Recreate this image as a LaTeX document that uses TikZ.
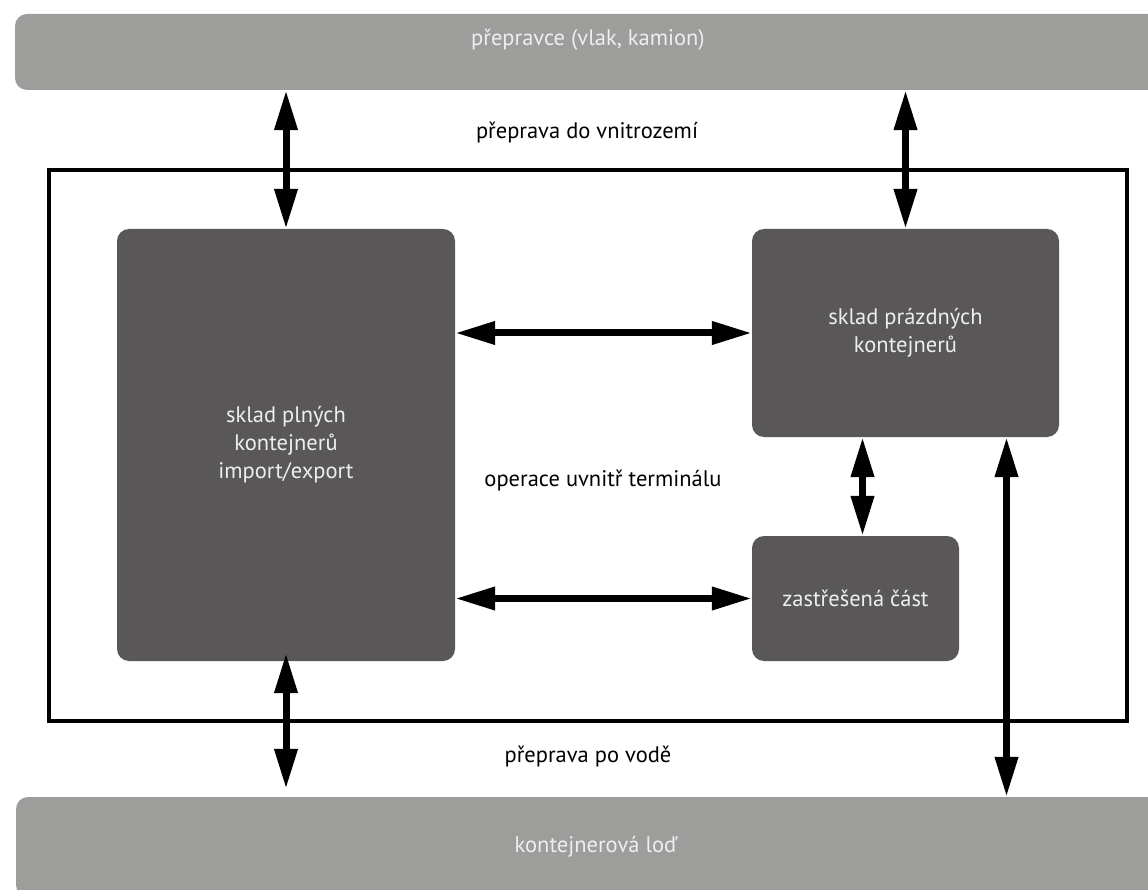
\documentclass[tikz,border=0pt]{standalone}
\usepackage{fontspec}
\setmainfont{PT Sans}
\usepackage{tikz}
\usetikzlibrary{arrows.meta,positioning}
\definecolor{bargray}{HTML}{9D9D9C}
\definecolor{boxgray}{HTML}{595758}
\definecolor{lighttext}{HTML}{EEEEEE}
\tikzset{
  bar/.style={ fill=bargray, rounded corners=12pt, inner sep=0pt, text=lighttext }
}
\tikzset{
  store/.style={ fill=boxgray, rounded corners=12pt, text=lighttext, align=center }
}
\tikzset{
  terminalframe/.style={ draw, line width=3.5pt, inner sep=0pt }
}
\tikzset{
  flow/.style={ line width=7pt, {Triangle[length=40pt,width=22pt]}-{Triangle[length=40pt,width=22pt]} }
}
\tikzset{
  caption/.style={ text=black }
}

\begin{document}
\begin{tikzpicture}[x=1pt, y=-1pt, font=\fontsize{22.5}{28}\selectfont]
      \useasboundingbox (0,0) rectangle (1148,890);
      \node[bar, minimum width=1160pt, minimum height=76pt] (carrier) at (595, 52) {};
      \node[bar, minimum width=1160pt, minimum height=100pt] (ship) at (596, 847) {kontejnerová loď};
      \node[text=lighttext] (carriertxt) at (588, 40) {přepravce (vlak, kamion)};
      \node[terminalframe, minimum width=1078pt, minimum height=551pt] (terminal) at (588, 445.5) {};
      \node[store, minimum width=338pt, minimum height=432pt] (full) at (286, 445) {sklad plných\\kontejnerů\\import/export};
      \node[store, minimum width=307pt, minimum height=208pt] (empty) at (905.5, 333) {sklad prázdných\\kontejnerů};
      \node[store, minimum width=207pt, minimum height=125pt] (covered) at (855.5, 598.5) {zastřešená část};
      \node[caption] (inland) at (587, 133) {přeprava do vnitrozemí};
      \node[caption] (inside) at (603, 481) {operace uvnitř terminálu};
      \node[caption] (water) at (588, 757) {přeprava po vodě};
      \draw[flow] (full.north |- carrier.south) -- (full.north);
      \draw[flow] (empty.north |- carrier.south) -- (empty.north);
      \draw[flow] (full.east |- empty.west) -- (empty.west);
      \draw[flow] (full.east |- covered.west) -- (covered.west);
      \draw[flow] ([xshift=7pt]covered.north |- empty.south) -- ([xshift=7pt]covered.north);
      \draw[flow] ([xshift=101pt]empty.south) -- ([xshift=101pt]empty.south |- ship.north);
      \draw[flow] ([yshift=8pt]full.south) -- ([yshift=8pt]full.south |- ship.north);
    \end{tikzpicture}
\end{document}
